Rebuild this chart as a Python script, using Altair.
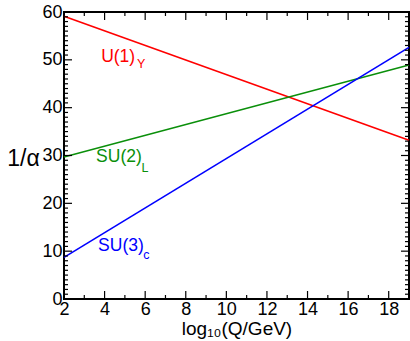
import altair as alt
import pandas as pd

# ---- data ----
log_q = [2, 19]
u1_y = [59.1, 33.2]
su2_l = [29.7, 48.9]
su3_c = [8.7, 52.6]

series_names = ["U(1)", "SU(2)", "SU(3)"]
series_subs = ["Y", "L", "c"]
series_colors = ["#ff0000", "#0a8f0a", "#0000ff"]
label_x = [3.83, 3.58, 3.68]
label_y = [49.6, 28.6, 10.1]
sub_x = [5.60, 5.82, 5.90]
sub_y = [48.2, 26.6, 8.4]

x_major = [2, 4, 6, 8, 10, 12, 14, 16, 18]
x_minor = [3, 5, 7, 9, 11, 13, 15, 17]
y_major = [0, 10, 20, 30, 40, 50, 60]
y_minor = [v for v in range(0, 61) if v % 10 != 0]

W, H = 345, 287
FONT = "Liberation Sans"

rows = []
for name, vals in zip(series_names, [u1_y, su2_l, su3_c]):
    for xv, yv in zip(log_q, vals):
        rows.append({"x": xv, "y": yv, "s": name})
lines_df = pd.DataFrame(rows)

lab_df = pd.DataFrame({"s": series_names, "sub": series_subs,
                       "x": label_x, "y": label_y, "sx": sub_x, "sy": sub_y})

xs = alt.Scale(domain=[2, 19], nice=False, zero=False)
ys = alt.Scale(domain=[0, 60], nice=False, zero=False)
color = alt.Color("s:N", scale=alt.Scale(domain=series_names, range=series_colors), legend=None)

base_x = alt.X("x:Q", scale=xs, axis=alt.Axis(
    values=x_major, ticks=False, domain=False, grid=False, labelFontSize=18,
    labelFont=FONT, labelColor="black", labelPadding=1, labelFlush=False,
    title="log₁₀(Q/GeV)", titleFont=FONT, titleFontSize=19, titleFontWeight="normal",
    titleColor="black", titlePadding=1))
base_y = alt.Y("y:Q", scale=ys, axis=alt.Axis(
    values=y_major, ticks=False, domain=False, grid=False, labelFontSize=18,
    labelFont=FONT, labelColor="black", labelPadding=2, labelFlush=False,
    title="1/α", titleFont=FONT, titleFontSize=23, titleFontWeight="normal",
    titleColor="black", titleAngle=0, titleAlign="center", titleBaseline="alphabetic",
    titleX=-41, titleY=153))

lines = alt.Chart(lines_df).mark_line(strokeWidth=1.6).encode(
    x=base_x, y=base_y, color=color, detail="s:N")

labels = alt.Chart(lab_df).mark_text(
    align="left", baseline="alphabetic", fontSize=17.5, font=FONT).encode(
    x=alt.X("x:Q", scale=xs), y=alt.Y("y:Q", scale=ys), text="s:N", color=color)
subs = alt.Chart(lab_df).mark_text(
    align="left", baseline="alphabetic", fontSize=12.5, font=FONT).encode(
    x=alt.X("sx:Q", scale=xs), y=alt.Y("sy:Q", scale=ys), text="sub:N", color=color)

def yticks(vals, length):
    df = pd.DataFrame({"y": vals})
    left = alt.Chart(df).mark_rule(color="black", strokeWidth=1.2).encode(
        y=alt.Y("y:Q", scale=ys), x=alt.value(0), x2=alt.value(length))
    right = alt.Chart(df).mark_rule(color="black", strokeWidth=1.2).encode(
        y=alt.Y("y:Q", scale=ys), x=alt.value(W), x2=alt.value(W - length))
    return [left, right]

def xticks(vals, length):
    df = pd.DataFrame({"x": vals})
    bottom = alt.Chart(df).mark_rule(color="black", strokeWidth=1.2).encode(
        x=alt.X("x:Q", scale=xs), y=alt.value(H), y2=alt.value(H - length))
    top = alt.Chart(df).mark_rule(color="black", strokeWidth=1.2).encode(
        x=alt.X("x:Q", scale=xs), y=alt.value(0), y2=alt.value(length))
    return [bottom, top]

tick_layers = yticks(y_major, 8) + yticks(y_minor, 4) + xticks(x_major, 8) + xticks(x_minor, 4)

chart = alt.layer(lines, labels, subs, *tick_layers).properties(
    width=W, height=H,
    autosize=alt.AutoSizeParams(type="none"),
    padding={"left": 64, "top": 12, "right": 1, "bottom": 42},
    background="white",
).configure_view(stroke="black", strokeWidth=2)

chart.save("out.html", embed_options={"renderer": "svg", "actions": False})
